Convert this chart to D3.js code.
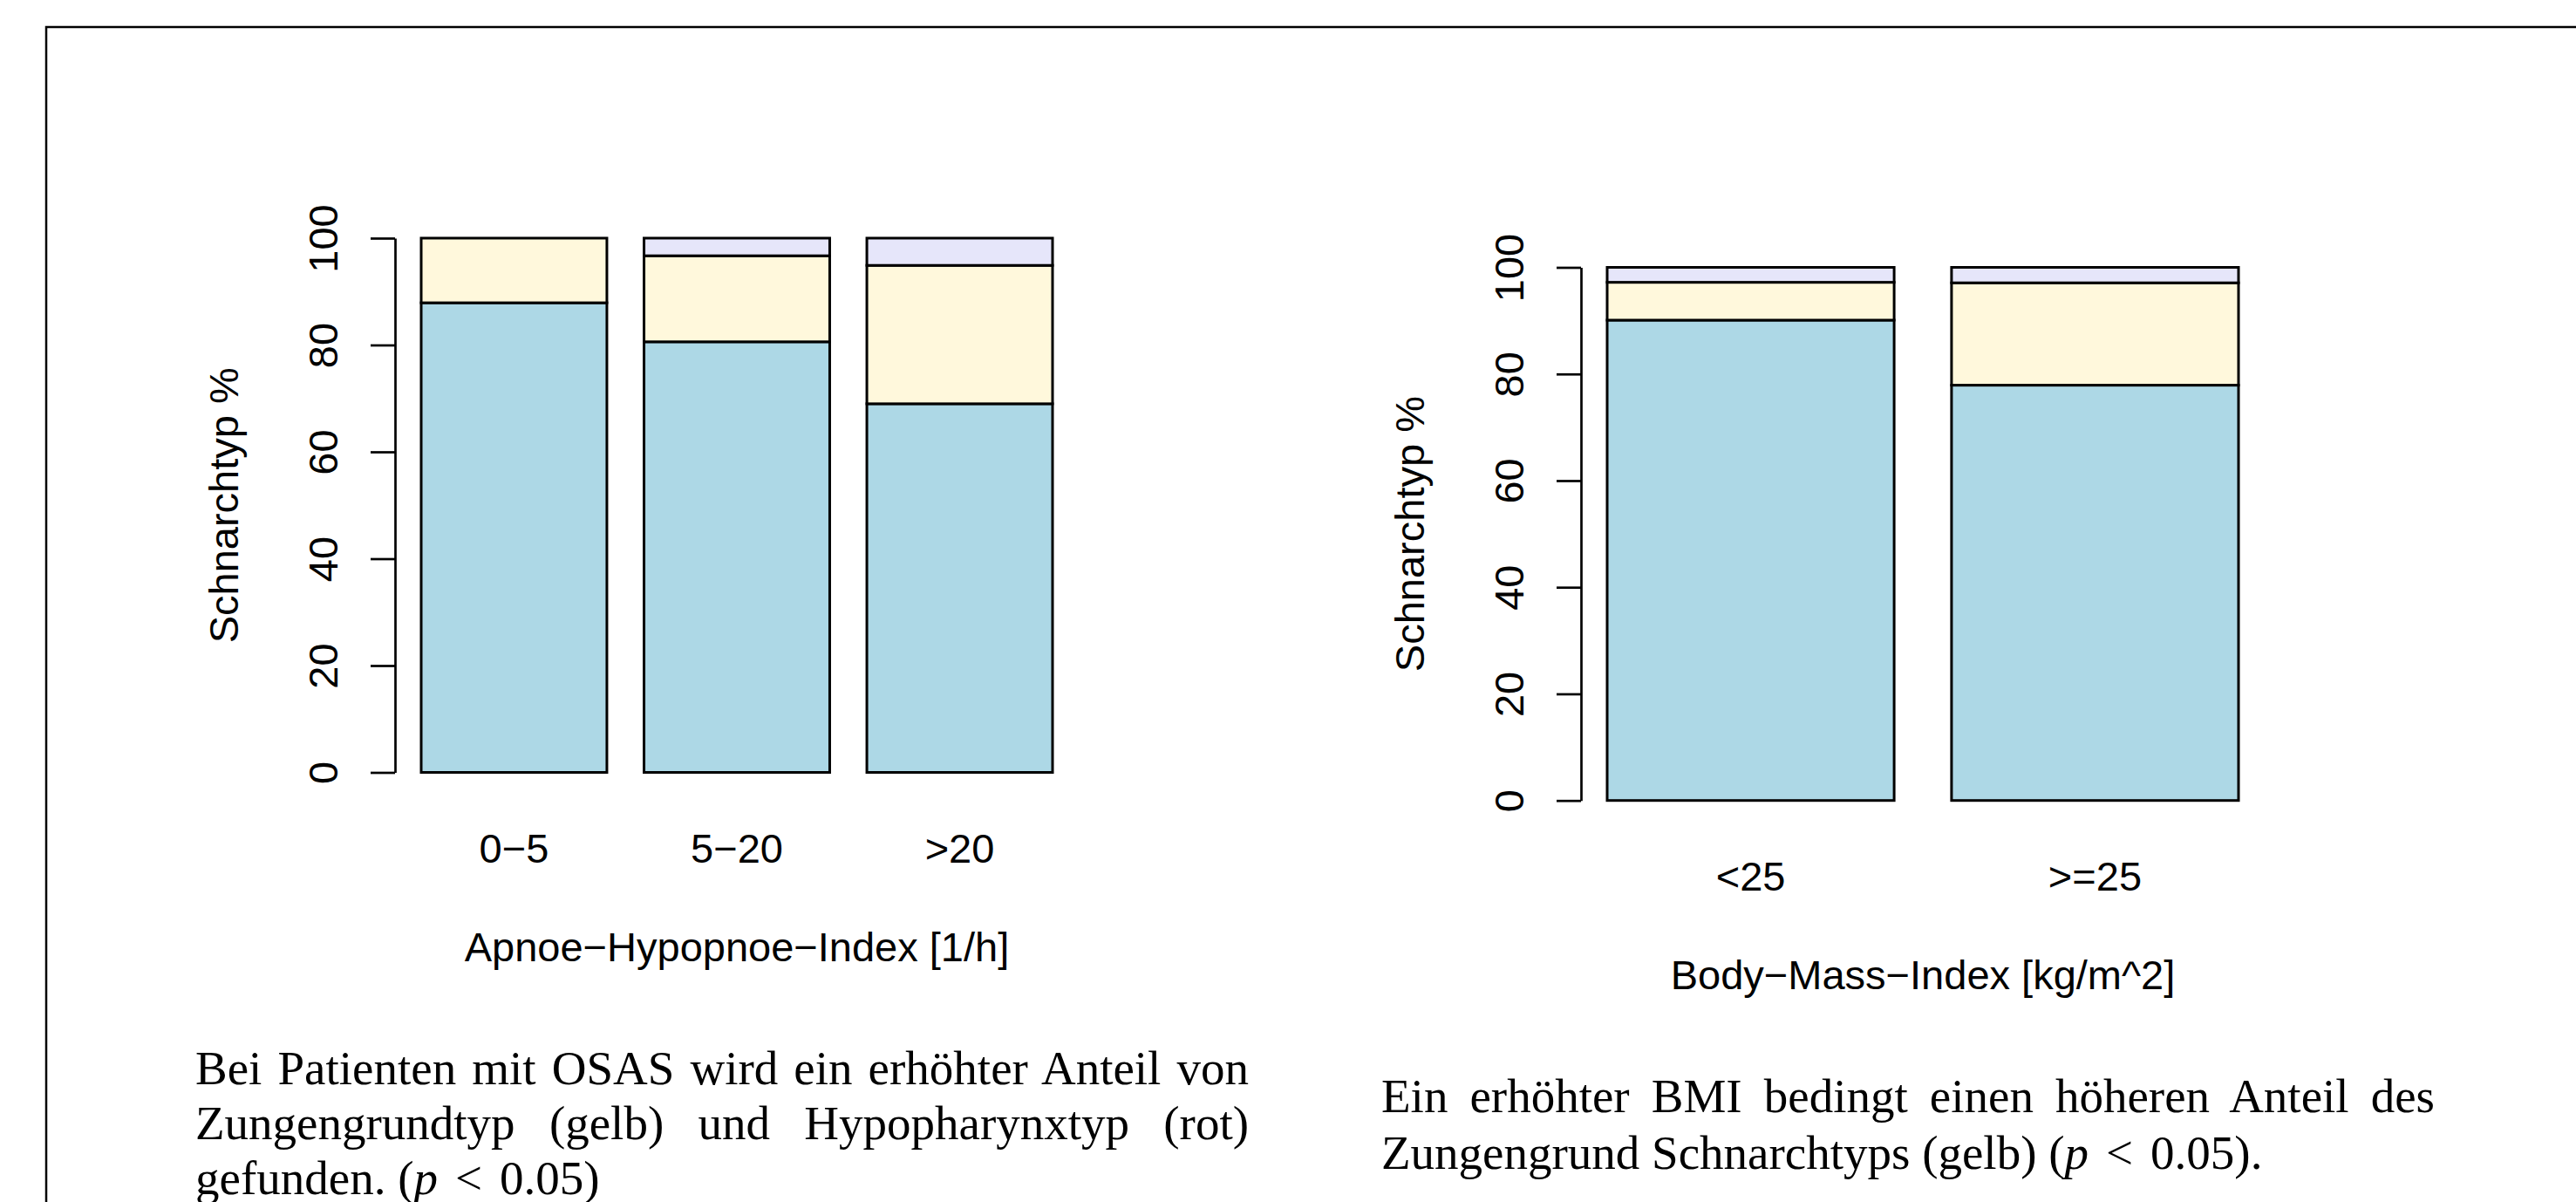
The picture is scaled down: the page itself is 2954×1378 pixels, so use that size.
<!DOCTYPE html>
<html>
<head>
<meta charset="utf-8">
<script src="https://cdn.jsdelivr.net/npm/d3@7"></script>
<style>
  body { margin: 0; background: #fff; }
  svg { display: block; }
  .chart text { font-family: "Liberation Sans", Arial, Helvetica, sans-serif; }
  .caption text { font-family: "Liberation Serif", "Times New Roman", serif; }
</style>
</head>
<body>
<div id="chart"></div>
<script>
// series order from bottom to top of each stacked bar
const SERIES = ["velum", "zungengrund", "hypopharynx"];
const COLORS = ["#ADD8E6", "#FFF8DC", "#E6E6FA"];
const Y_TICKS = [0, 20, 40, 60, 80, 100];

// Apnoe-Hypopnoe-Index panel
const AHI_LABELS = ["0\u22125", "5\u221220", ">20"];
const AHI_VELUM = [87.9, 80.6, 69.0];
const AHI_ZUNGE = [12.1, 16.1, 25.9];
const AHI_HYPO = [0.0, 3.3, 5.1];

// Body-Mass-Index panel
const BMI_LABELS = ["<25", ">=25"];
const BMI_VELUM = [90.1, 77.9];
const BMI_ZUNGE = [7.1, 19.2];
const BMI_HYPO = [2.8, 2.9];

const W = 2954, H = 1378;
const FONT = 47;

const svg = d3.select("#chart")
  .append("svg")
  .attr("width", W)
  .attr("height", H);

// page frame
svg.append("rect")
  .attr("x", 53).attr("y", 31)
  .attr("width", 3000).attr("height", 2000)
  .attr("fill", "none")
  .attr("stroke", "#000")
  .attr("stroke-width", 2.5);

function drawPanel(cfg) {
  const rows = cfg.labels.map((l, i) => ({
    cat: l,
    velum: cfg.velum[i],
    zungengrund: cfg.zunge[i],
    hypopharynx: cfg.hypo[i]
  }));
  const stacked = d3.stack().keys(SERIES)(rows);

  const x = d3.scaleBand()
    .domain(cfg.labels)
    .range(cfg.xRange)
    .paddingInner(1 / 6)
    .paddingOuter(0);

  const y = d3.scaleLinear()
    .domain([0, 100])
    .range(cfg.yRange);

  const g = svg.append("g").attr("class", "chart");

  // bars
  g.selectAll("g.layer")
    .data(stacked)
    .join("g")
    .attr("class", "layer")
    .attr("fill", (d, i) => COLORS[i])
    .selectAll("rect")
    .data(d => d)
    .join("rect")
    .attr("x", d => x(d.data.cat))
    .attr("width", x.bandwidth())
    .attr("y", d => y(d[1]))
    .attr("height", d => y(d[0]) - y(d[1]))
    .attr("stroke", "#000")
    .attr("stroke-width", 3);

  // y axis, R style with rotated labels
  const axisX = cfg.xRange[0] - 30;
  const yAxis = g.append("g")
    .attr("transform", `translate(${axisX},0)`)
    .call(d3.axisLeft(y).tickValues(Y_TICKS).tickSize(28).tickSizeOuter(0));
  yAxis.select(".domain").attr("stroke-width", 2.7);
  yAxis.selectAll(".tick line").attr("stroke-width", 2.7);
  yAxis.selectAll(".tick text")
    .attr("x", null).attr("dy", null)
    .attr("transform", "translate(-66,0) rotate(-90)")
    .attr("text-anchor", "middle")
    .attr("font-size", FONT)
    .attr("fill", "#000");

  // category labels
  const xAxis = g.append("g")
    .attr("transform", `translate(0,${y(0)})`)
    .call(d3.axisBottom(x).tickSize(0));
  xAxis.select(".domain").remove();
  xAxis.selectAll(".tick text")
    .attr("y", 103.5).attr("dy", null)
    .attr("font-size", FONT)
    .attr("fill", "#000");

  // axis titles
  g.append("text")
    .attr("x", (cfg.xRange[0] + cfg.xRange[1]) / 2)
    .attr("y", y(0) + 216.5)
    .attr("text-anchor", "middle")
    .attr("font-size", FONT)
    .text(cfg.xlab);

  g.append("text")
    .attr("transform", `translate(${axisX - 180},${(y(0) + y(100)) / 2}) rotate(-90)`)
    .attr("text-anchor", "middle")
    .attr("font-size", FONT)
    .text("Schnarchtyp %");
}

drawPanel({
  labels: AHI_LABELS, velum: AHI_VELUM, zunge: AHI_ZUNGE, hypo: AHI_HYPO,
  xRange: [483, 1207], yRange: [885.5, 273],
  xlab: "Apnoe\u2212Hypopnoe\u2212Index [1/h]"
});

drawPanel({
  labels: BMI_LABELS, velum: BMI_VELUM, zunge: BMI_ZUNGE, hypo: BMI_HYPO,
  xRange: [1843, 2567], yRange: [917.7, 306.5],
  xlab: "Body\u2212Mass\u2212Index [kg/m^2]"
});

// captions below the panels
const CAP_FONT = 55;
const CAP_WIDTH = 1208;
const cap = svg.append("g").attr("class", "caption");

function capLine(x, y, parts, justify) {
  const t = cap.append("text")
    .attr("x", x).attr("y", y)
    .attr("font-size", CAP_FONT)
    .attr("fill", "#000");
  parts.forEach(p => {
    const s = t.append("tspan").text(p.t);
    if (p.it) s.attr("font-style", "italic");
    if (p.dx) s.attr("dx", p.dx);
  });
  if (justify) {
    const natural = t.node().getComputedTextLength();
    const spaces = parts.reduce((n, p) => n + (p.t.match(/ /g) || []).length, 0);
    t.attr("word-spacing", (CAP_WIDTH - natural) / spaces);
  }
}

// math part "(p < 0.05)" with wider spacing around the relation sign
const mathParts = tail => [
  { t: "p", it: true },
  { t: "<", dx: 20 },
  { t: "0.05" + tail, dx: 20 }
];

capLine(224, 1243, [{ t: "Bei Patienten mit OSAS wird ein erh\u00f6hter Anteil von" }], true);
capLine(224, 1306, [{ t: "Zungengrundtyp (gelb) und Hypopharynxtyp (rot)" }], true);
capLine(224, 1369, [{ t: "gefunden. (" }].concat(mathParts(")")), false);

capLine(1584, 1275, [{ t: "Ein erh\u00f6hter BMI bedingt einen h\u00f6heren Anteil des" }], true);
capLine(1584, 1340, [{ t: "Zungengrund Schnarchtyps (gelb) (" }].concat(mathParts(").")), false);
</script>
</body>
</html>
